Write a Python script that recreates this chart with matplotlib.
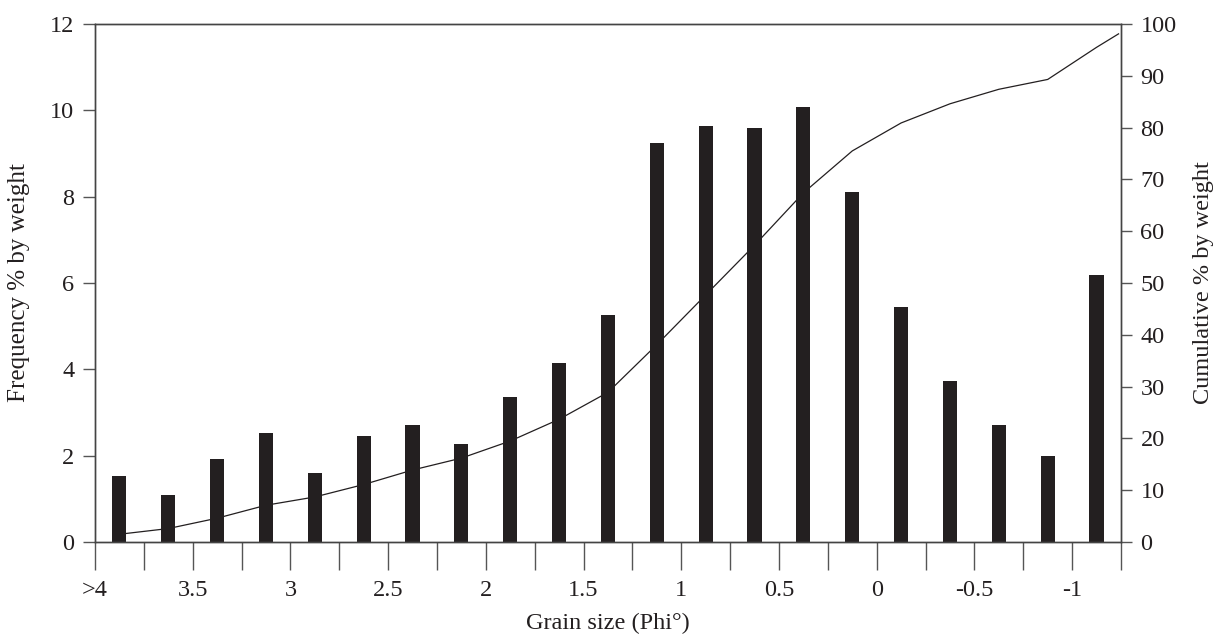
import matplotlib
matplotlib.use("Agg")
import matplotlib.pyplot as plt
import numpy as np

# ── data ──
freq = [1.53, 1.10, 1.93, 2.53, 1.60, 2.45, 2.72, 2.27, 3.35, 4.15, 5.25,
        9.25, 9.63, 9.60, 10.07, 8.12, 5.45, 3.73, 2.72, 2.00, 6.18]
cumulative = [1.5, 2.6, 4.6, 7.1, 8.7, 11.1, 13.9, 16.2, 19.5, 23.7, 28.9,
              38.1, 47.7, 57.3, 67.4, 75.5, 80.9, 84.6, 87.4, 89.3, 95.5]
cum_end = 98.1  # line runs on to the right edge
tick_labels = [">4", "3.5", "3", "2.5", "2", "1.5", "1", "0.5", "0", "-0.5", "-1"]

ink = "#231f20"
plt.rcParams["font.family"] = ["Liberation Serif", "DejaVu Serif"]
plt.rcParams["font.size"] = 17.5

fig = plt.figure(figsize=(12.19, 6.37), dpi=100)
ax = fig.add_axes([0.0779, 0.1491, 0.8417, 0.8132])
n = len(freq)
xc = np.arange(n) + 0.5

ax.bar(xc, freq, width=0.29, color=ink, zorder=2)
ax.set_xlim(0, n)
ax.set_ylim(0, 12)
ax.set_yticks(np.arange(0, 13, 2))
ax.set_xticks(np.arange(0, n, 2))
ax.set_xticklabels(tick_labels)
ax.set_xticks(np.arange(1, n + 1, 2), minor=True)
ax.tick_params(axis="x", which="both", direction="out", length=20, width=1,
               color="#555", pad=7, labelcolor=ink)
ax.tick_params(axis="y", direction="out", length=9, width=1, color="#555",
               pad=6, labelcolor=ink)
ax.set_ylabel("Frequency % by weight", color=ink, labelpad=14, fontsize=18)
ax.set_xlabel("Grain size (Phi°)", color=ink, labelpad=9)

ax2 = ax.twinx()
ax2.plot(list(xc) + [n - 0.05], cumulative + [cum_end], color=ink, lw=0.9)
ax2.set_ylim(0, 100)
ax2.set_yticks(np.arange(0, 101, 10))
ax2.tick_params(axis="y", direction="out", length=8, width=1, color="#555",
                pad=6, labelcolor=ink)
ax2.set_ylabel("Cumulative % by weight", color=ink, labelpad=12)

for a in (ax, ax2):
    for s in a.spines.values():
        s.set_color("#444")
        s.set_linewidth(1)

fig.savefig("out.png", dpi=100)
